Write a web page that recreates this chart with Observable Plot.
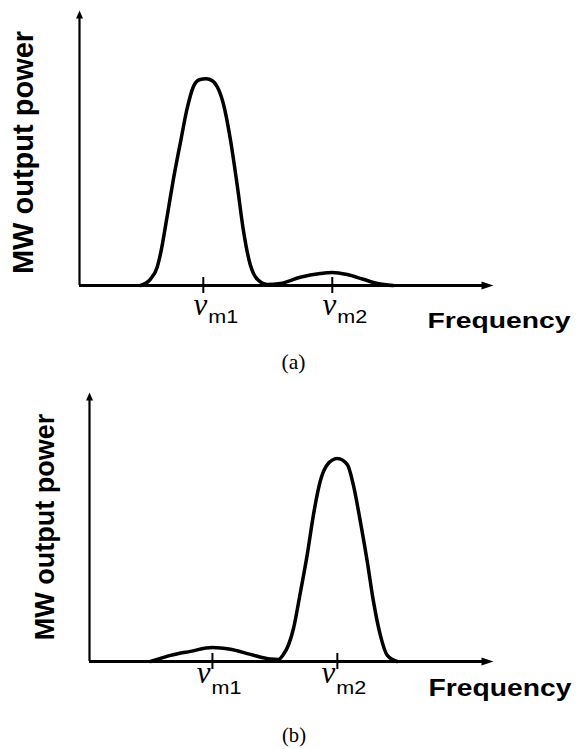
<!DOCTYPE html>
<html><head><meta charset="utf-8">
<script src="https://cdn.jsdelivr.net/npm/d3@7"></script>
<script src="https://cdn.jsdelivr.net/npm/@observablehq/plot@0.6"></script>
<style>
html,body{margin:0;padding:0;background:#fff;}
#chart{width:576px;}
#chart svg{display:block;background:#fff;}
</style></head><body><div id="chart"></div>
<script>
// ---- data ----
const nuTicks = [1, 2];
const nuSubs = ["m1", "m2"];
const yLabel = "MW output power";
const xLabel = "Frequency";
const captions = ["(a)", "(b)"];

// panel (a): strong mode at v_m1, weak mode at v_m2
const aFreq = [0.512, 0.589, 0.643, 0.667, 0.721, 0.767, 0.822, 0.876, 0.922, 0.969, 1.023, 1.070, 1.109, 1.155, 1.209, 1.264, 1.310, 1.364, 1.419, 1.496, 1.597, 1.752, 1.907, 2.000, 2.116, 2.240, 2.349, 2.473];
const aPower = [0, 0.03, 0.09, 0.15, 0.34, 0.51, 0.69, 0.86, 0.96, 0.995, 1.0, 0.99, 0.96, 0.88, 0.71, 0.48, 0.27, 0.10, 0.03, 0.005, 0.01, 0.04, 0.058, 0.063, 0.053, 0.03, 0.01, 0];

// panel (b): weak mode at v_m1, strong mode at v_m2
const bFreq = [0.504, 0.584, 0.664, 0.824, 1.0, 1.144, 1.304, 1.464, 1.528, 1.568, 1.608, 1.648, 1.704, 1.76, 1.808, 1.864, 1.92, 2.0, 2.08, 2.128, 2.184, 2.24, 2.288, 2.344, 2.4, 2.48];
const bPower = [0, 0.015, 0.03, 0.05, 0.069, 0.06, 0.035, 0.012, 0.01, 0.035, 0.08, 0.16, 0.34, 0.53, 0.72, 0.89, 0.97, 1.0, 0.97, 0.87, 0.69, 0.49, 0.30, 0.13, 0.03, 0];

const aAxis = [0.04, 3.25];
const bAxis = [0.016, 3.25];
const aTop = 1.33, bTop = 1.325;

// ---- drawing ----
function head(halfWidth) {
  return {draw(ctx, size) {
    const r = Math.sqrt(size / Math.PI);
    ctx.moveTo(0, 0);
    ctx.lineTo(-2 * r, -halfWidth * r);
    ctx.lineTo(-2 * r, halfWidth * r);
    ctx.closePath();
  }};
}
const headX = head(0.67), headY = head(0.875);

function panel(cfg) {
  const curve = cfg.freq.map((f, i) => ({f, p: cfg.power[i]}));
  const svg = Plot.plot({
    width: 576, height: cfg.height,
    marginTop: cfg.mt, marginBottom: cfg.mb, marginLeft: cfg.ml, marginRight: 83,
    x: {domain: cfg.axis, axis: null},
    y: {domain: [0, cfg.top], axis: null},
    style: {fontFamily: "Liberation Sans, Arial, sans-serif", background: "#fff", color: "#000"},
    marks: [
      Plot.ruleY([0], {x1: cfg.axis[0], x2: cfg.axis[1], stroke: "#000", strokeWidth: 3, insetRight: 8}),
      Plot.ruleX([cfg.axis[0]], {y1: cfg.top, y2: 0, stroke: "#000", strokeWidth: 2.2, insetTop: 5}),
      Plot.dot([cfg.axis[1]], {x: d => d, y: 0, symbol: headX, r: 6, fill: "#000", stroke: "none"}),
      Plot.dot([cfg.axis[0]], {x: d => d, y: cfg.top, symbol: headY, r: 4, rotate: -90, fill: "#000", stroke: "none"}),
      Plot.ruleX(nuTicks, {x: d => d, y1: 0, y2: 0, insetTop: -8, insetBottom: -8, stroke: "#000", strokeWidth: 2}),
      Plot.line(curve, {x: "f", y: "p", curve: "monotone-x", stroke: "#000", strokeWidth: 3.5, strokeLinejoin: "round", strokeLinecap: "round"}),
      Plot.text(nuTicks, {x: d => d, y: 0, text: () => "ν", fontFamily: "Liberation Serif, Times New Roman, serif", fontStyle: "italic", fontSize: 31, textAnchor: "end", lineAnchor: "bottom", dx: cfg.nuDx, dy: cfg.nuDy, fill: "#000"}),
      Plot.text(nuTicks, {x: d => d, y: 0, text: (d, i) => nuSubs[i], fontSize: 19, textAnchor: "start", lineAnchor: "bottom", dx: cfg.nuDx + 1, dy: cfg.subDy, fill: "#000"}),
      Plot.text([yLabel], {text: d => d, frameAnchor: "left", textAnchor: "middle", rotate: -90, lineAnchor: "bottom", dx: cfg.ylDx, dy: cfg.ylDy, fontSize: cfg.ylSize, fontWeight: "bold", fill: "#000"}),
      Plot.text([xLabel], {text: d => d, frameAnchor: "bottom-right", textAnchor: "start", lineAnchor: "bottom", dx: cfg.xlDx, dy: cfg.xlDy, fontSize: cfg.xlSize, fontWeight: "bold", fill: "#000"}),
      Plot.text([cfg.caption], {text: d => d, frameAnchor: "bottom", textAnchor: "middle", lineAnchor: "bottom", dx: cfg.capDx, dy: cfg.capDy, fontFamily: "Liberation Serif, Times New Roman, serif", fontSize: 21, fill: "#000"})
    ]
  });
  d3.select(svg).selectAll("text").each(function() {
    const t = this.textContent;
    if (t === xLabel) d3.select(this).attr("textLength", 143).attr("lengthAdjust", "spacingAndGlyphs");
    else if (nuSubs.includes(t)) d3.select(this).attr("textLength", 30).attr("lengthAdjust", "spacingAndGlyphs");
    else if (captions.includes(t)) d3.select(this).attr("textLength", 24).attr("lengthAdjust", "spacingAndGlyphs");
  });
  return svg;
}

const root = document.getElementById("chart");
root.appendChild(panel({
  freq: aFreq, power: aPower, axis: aAxis, top: aTop, caption: captions[0],
  height: 374, mt: 10, mb: 89, ml: 79,
  nuDx: 4, nuDy: 29, subDy: 37,
  ylDx: -47, ylDy: 4.5, ylSize: 29,
  xlDx: -66, xlDy: 42, xlSize: 22,
  capDx: 7, capDy: 83
}));
root.appendChild(panel({
  freq: bFreq, power: bPower, axis: bAxis, top: bTop, caption: captions[1],
  height: 375, mt: 18, mb: 88, ml: 89,
  nuDx: -2, nuDy: 21, subDy: 32,
  ylDx: -36, ylDy: 0, ylSize: 27,
  xlDx: -65, xlDy: 34, xlSize: 24,
  capDx: 2.5, capDy: 80
}));
</script></body></html>
